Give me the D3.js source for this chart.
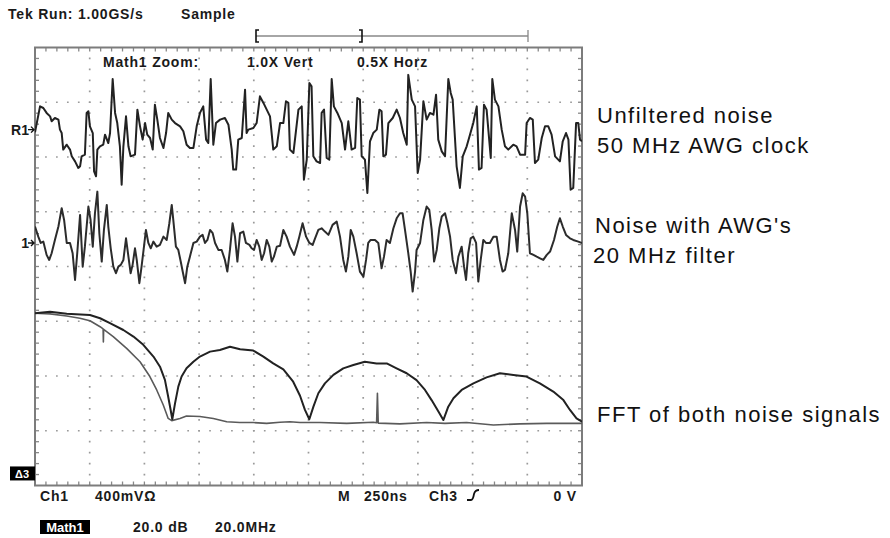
<!DOCTYPE html>
<html>
<head>
<meta charset="utf-8">
<script src="https://cdn.jsdelivr.net/npm/d3@7"></script>
<style>
  html, body { margin: 0; padding: 0; background: #fff; }
  svg { display: block; }
  .scope { font-family: "Liberation Sans", Arial, sans-serif; font-weight: bold; font-size: 14px; letter-spacing: 0.8px; fill: #1a1a1a; }
  .note { font-family: "Liberation Sans", Arial, sans-serif; font-size: 22px; letter-spacing: 1.5px; fill: #111; }
</style>
</head>
<body>
<svg id="scope" width="890" height="538"></svg>
<script>
// ---- Acquisition settings (as shown on the scope readout) ----
const nsPerDiv = 250;        // M 250ns
const mvPerDiv = 400;        // Ch1 400mV
const dbPerDiv = 20;         // Math1 20.0 dB
const mhzPerDiv = 20;        // Math1 20.0MHz
const hDivs = 10, vDivs = 8;

// Channel reference levels, in divisions from screen centre
const refLevelR1 = 2.5;
const refLevelCh1 = 0.43;
const refLevelMath = -3.78;

// ---- Unfiltered noise, 50 MHz AWG clock (R1): [time ns, mV] ----
const unfilteredNoise = [
  [0,-20],[23,170],[38,158],[53,122],[69,97],[76,61],[91,85],[107,73],[114,0],[122,-25],
  [129,-146],[145,-110],[160,-146],[168,-195],[183,-232],[198,-280],[206,-268],[213,-195],[228,-183],[236,122],
  [244,134],[251,24],[264,-25],[270,-305],[279,-341],[285,-146],[297,-122],[312,-110],[320,-37],[335,-98],
  [343,-25],[355,370],[366,122],[376,48],[388,-122],[396,-402],[404,-122],[416,97],[427,-122],[437,-195],
  [457,-183],[468,146],[480,24],[492,-73],[503,48],[513,-37],[526,-61],[538,-146],[548,182],[559,73],
  [571,-61],[587,-134],[599,-25],[609,122],[625,73],[640,48],[663,24],[678,-12],[693,-110],[708,-134],
  [724,-134],[739,24],[754,122],[769,170],[782,-73],[792,-98],[803,370],[815,-110],[827,48],[846,73],
  [868,85],[884,36],[899,-146],[906,-292],[919,-292],[929,-73],[945,-61],[960,292],[967,-25],[975,0],
  [998,12],[1013,48],[1028,243],[1044,195],[1059,146],[1074,97],[1089,-146],[1105,-122],[1120,48],[1135,48],
  [1147,207],[1158,195],[1165,-146],[1181,-171],[1204,146],[1219,170],[1229,-366],[1242,-219],[1254,340],[1264,316],
  [1272,-195],[1287,-232],[1303,-244],[1310,122],[1321,146],[1333,-207],[1345,-219],[1356,370],[1366,170],[1382,122],
  [1402,48],[1417,-146],[1432,61],[1447,-146],[1463,-134],[1473,231],[1485,219],[1493,-195],[1508,-219],[1519,-463],
  [1531,-85],[1546,-25],[1562,0],[1574,146],[1584,134],[1592,-195],[1604,-183],[1615,48],[1635,85],[1653,146],
  [1668,85],[1683,-25],[1699,-110],[1706,400],[1722,219],[1737,170],[1749,-317],[1760,-219],[1775,207],[1790,73],
  [1805,122],[1821,109],[1833,255],[1843,-73],[1859,-159],[1874,-195],[1889,370],[1900,268],[1909,219],[1927,-268],
  [1942,-426],[1955,-195],[1973,-122],[1988,-37],[2003,48],[2019,170],[2029,-292],[2041,-280],[2052,182],[2064,146],
  [2083,-207],[2090,370],[2102,219],[2118,170],[2133,0],[2148,-122],[2163,-146],[2186,-110],[2201,-122],[2217,-183],
  [2240,-183],[2247,48],[2262,85],[2275,73],[2285,-244],[2300,-219],[2316,-61],[2331,24],[2346,24],[2361,-37],
  [2377,-195],[2399,-232],[2412,-85],[2427,-25],[2438,-73],[2448,-439],[2460,-426],[2473,48],[2483,48],[2491,-73],
  [2500,-85]
];

// ---- Noise through the AWG's 20 MHz filter (Ch1): [time ns, mV] ----
const filteredNoise = [
  [0,120],[15,46],[26,0],[38,10],[53,-87],[65,-124],[76,-75],[91,22],[107,120],[122,254],
  [133,168],[145,0],[160,0],[172,-75],[183,-270],[193,-75],[206,205],[218,-173],[228,-27],[236,120],
  [244,266],[254,168],[264,-27],[274,217],[285,375],[294,71],[305,-136],[315,95],[328,278],[335,120],
  [346,-39],[358,-173],[370,-221],[381,-173],[392,-160],[404,-124],[416,34],[427,-100],[437,-221],[446,-160],
  [457,-39],[465,-124],[477,-294],[487,-173],[498,-27],[507,95],[518,0],[529,-39],[541,10],[556,-27],
  [571,-14],[587,46],[602,22],[614,144],[625,278],[632,168],[644,-27],[655,-51],[666,-136],[675,-209],
  [686,-294],[696,-173],[708,-100],[724,0],[739,10],[754,46],[766,59],[777,0],[788,22],[800,95],
  [812,71],[823,0],[838,-51],[853,-51],[868,-124],[879,-209],[891,-51],[903,144],[914,46],[925,-136],
  [937,71],[952,83],[964,0],[980,-14],[990,-39],[1001,-51],[1013,22],[1025,-27],[1036,-124],[1047,-75],
  [1059,22],[1071,-27],[1082,-136],[1092,-100],[1105,-27],[1120,-20],[1135,95],[1150,46],[1165,-27],[1184,-87],
  [1196,-27],[1208,46],[1223,144],[1239,46],[1254,0],[1269,-14],[1280,34],[1295,95],[1310,107],[1325,83],
  [1341,59],[1360,132],[1379,156],[1394,46],[1409,-124],[1421,-209],[1432,-100],[1443,95],[1455,46],[1470,-75],
  [1485,-209],[1501,-246],[1513,-124],[1523,0],[1534,22],[1554,22],[1569,0],[1584,-185],[1595,-100],[1607,22],
  [1622,0],[1638,107],[1653,180],[1668,217],[1680,217],[1691,95],[1706,-75],[1717,-209],[1726,-355],[1737,-209],
  [1744,-51],[1760,0],[1775,168],[1790,266],[1802,241],[1813,95],[1824,-136],[1836,-51],[1848,107],[1859,193],
  [1874,217],[1885,144],[1897,46],[1909,-124],[1924,-221],[1935,-100],[1950,-27],[1961,-173],[1970,-270],[1980,-75],
  [1991,34],[2003,46],[2016,0],[2026,-282],[2037,-124],[2049,22],[2061,0],[2079,0],[2095,46],[2110,46],
  [2125,-124],[2137,-209],[2148,-197],[2163,-75],[2179,217],[2194,95],[2204,-63],[2217,266],[2229,363],[2240,339],
  [2250,217],[2262,-75],[2278,-87],[2293,-100],[2308,-112],[2323,-124],[2339,-87],[2354,-63],[2372,22],[2387,120],
  [2399,180],[2412,120],[2427,59],[2445,34],[2460,22],[2483,10],[2500,0]
];

// ---- FFT magnitude of the unfiltered noise: [MHz, dB above Math1 reference] ----
const fftUnfiltered = [
  [0,58.5],[5.5,59.1],[11.6,58.3],[20.1,57.9],[23.8,56.7],[27.4,54.9],[32.3,52.4],[36.0,50.0],[39.6,47.0],[43.3,42.7],
  [45.7,39.0],[47.5,34.2],[48.7,28.0],[49.6,23.2],[50.2,19.8],[51.2,25.6],[52.4,31.7],[53.6,35.4],[55.4,38.4],[57.9,40.8],
  [60.3,42.7],[64.0,44.5],[67.6,45.1],[71.3,46.3],[75.0,45.4],[79.8,44.9],[83.5,42.7],[87.1,40.2],[90.8,38.0],[94.4,33.5],
  [96.9,28.4],[98.7,23.2],[100.3,19.8],[101.8,24.4],[103.6,29.3],[106.0,32.9],[109.1,36.0],[112.7,38.4],[116.4,39.6],[120.6,40.8],
  [124.9,40.2],[128.6,40.2],[132.2,38.4],[135.9,36.6],[139.5,34.1],[142.6,30.5],[145.0,26.8],[147.5,22.6],[149.3,19.5],[151.1,24.4],
  [153.0,27.5],[156.0,30.5],[160.3,32.9],[165.1,35.1],[170.0,36.6],[174.9,36.0],[179.7,35.4],[184.6,32.9],[189.5,29.9],[193.2,26.8],
  [195.6,23.2],[198.0,20.1],[200,18.9]
];

// ---- FFT magnitude of the 20 MHz filtered noise: [MHz, dB above Math1 reference] ----
const fftFiltered = [
  [0,58.5],[5.5,58.3],[11.6,57.5],[16.4,56.7],[20.1,55.8],[23.8,53.6],[24.9,52.8],[25.0,48.0],[25.1,52.6],[28.6,50.0],
  [33.5,45.7],[38.4,40.8],[42.0,35.4],[44.5,30.5],[46.9,25.0],[48.7,20.1],[50.0,19.3],[53.0,20.1],[55.4,21.0],[60.3,20.8],
  [65.2,20.1],[70.1,18.9],[74.9,18.6],[79.8,18.6],[84.7,18.3],[89.6,18.7],[93.2,18.9],[96.9,18.6],[104.2,18.6],[114.0,18.3],
  [123.7,18.7],[124.9,18.5],[125.2,29.3],[125.5,18.4],[133.4,18.1],[143.2,18.6],[149.9,18.3],[157.8,18.6],[167.6,17.7],[177.3,18.1],
  [187.1,18.3],[200,18.3]
];

// ---- Readout text ----
const headerRun = "Run: 1.00GS/s";
const headerMode = "Sample";
const zoomReadout = ["Math1 Zoom:", "1.0X Vert", "0.5X Horz"];
const ch1Readout = ["Ch1", "400mV\u03A9"];
const timebaseReadout = ["M", "250ns", "Ch3", "0 V"];
const mathReadout = ["Math1", "20.0 dB", "20.0MHz"];
const notes = [
  ["Unfiltered noise", "50 MHz AWG clock"],
  ["Noise with AWG's", "20 MHz filter"],
  ["FFT of both noise signals"]
];

// ---- Layout ----
const svg = d3.select("#scope");
const scrL = 35, scrR = 582, scrT = 47.5, scrB = 485.5;

const gx = d3.scaleLinear().domain([0, hDivs]).range([scrL, scrR]);
const gy = d3.scaleLinear().domain([vDivs / 2, -vDivs / 2]).range([scrT, scrB]);

const tScale = d3.scaleLinear().domain([0, hDivs * nsPerDiv]).range([scrL, scrR]);
const chanScale = ref => d3.scaleLinear().domain([0, mvPerDiv]).range([gy(ref), gy(ref + 1)]);
const yR1 = chanScale(refLevelR1);
const yCh1 = chanScale(refLevelCh1);
const fScale = d3.scaleLinear().domain([0, hDivs * mhzPerDiv]).range([scrL, scrR]);
const dbScale = d3.scaleLinear().domain([0, dbPerDiv]).range([gy(refLevelMath), gy(refLevelMath + 1)]);

// ---- Graticule ----
const minorX = (scrR - scrL) / (hDivs * 5);
const minorY = (scrB - scrT) / (vDivs * 5);
const grat = svg.append("g");

// dotted division lines
d3.range(1, hDivs).forEach(i => {
  grat.append("line")
    .attr("x1", gx(i)).attr("x2", gx(i)).attr("y1", scrT).attr("y2", scrB)
    .attr("stroke", "#9a9a9a").attr("stroke-width", 1.7)
    .attr("stroke-dasharray", `1.7 ${minorY - 1.7}`).attr("stroke-dashoffset", 0.85);
});
d3.range(-vDivs / 2 + 1, vDivs / 2).forEach(j => {
  grat.append("line")
    .attr("x1", scrL).attr("x2", scrR).attr("y1", gy(j)).attr("y2", gy(j))
    .attr("stroke", "#9a9a9a").attr("stroke-width", 1.7)
    .attr("stroke-dasharray", `1.7 ${minorX - 1.7}`).attr("stroke-dashoffset", 0.85);
});

// minor ticks along the frame
d3.range(1, hDivs * 5).forEach(k => {
  const x = scrL + k * minorX;
  grat.append("line").attr("x1", x).attr("x2", x).attr("y1", scrT).attr("y2", scrT + 4)
    .attr("stroke", "#888").attr("stroke-width", 1.3);
  grat.append("line").attr("x1", x).attr("x2", x).attr("y1", scrB).attr("y2", scrB - 4)
    .attr("stroke", "#888").attr("stroke-width", 1.3);
});
d3.range(1, vDivs * 5).forEach(k => {
  const y = scrT + k * minorY;
  grat.append("line").attr("x1", scrL).attr("x2", scrL + 4).attr("y1", y).attr("y2", y)
    .attr("stroke", "#888").attr("stroke-width", 1.3);
  grat.append("line").attr("x1", scrR).attr("x2", scrR - 4).attr("y1", y).attr("y2", y)
    .attr("stroke", "#888").attr("stroke-width", 1.3);
});

grat.append("rect")
  .attr("x", scrL).attr("y", scrT).attr("width", scrR - scrL).attr("height", scrB - scrT)
  .attr("fill", "none").attr("stroke", "#7c7c7c").attr("stroke-width", 2);

// ---- Waveforms ----
svg.append("clipPath").attr("id", "screen")
  .append("rect").attr("x", scrL).attr("y", scrT).attr("width", scrR - scrL).attr("height", scrB - scrT);
const traces = svg.append("g").attr("clip-path", "url(#screen)");

const timeLine = ys => d3.line().x(d => tScale(d[0])).y(d => ys(d[1]));
const fftLine = d3.line().x(d => fScale(d[0])).y(d => dbScale(d[1]));

traces.append("path").datum(fftFiltered).attr("d", fftLine)
  .attr("fill", "none").attr("stroke", "#5a5a5a").attr("stroke-width", 1.6).attr("stroke-linejoin", "round");
traces.append("path").datum(fftUnfiltered).attr("d", fftLine)
  .attr("fill", "none").attr("stroke", "#222").attr("stroke-width", 2).attr("stroke-linejoin", "round");

traces.append("path").datum(unfilteredNoise).attr("d", timeLine(yR1))
  .attr("fill", "none").attr("stroke", "#222").attr("stroke-width", 2).attr("stroke-linejoin", "round");
traces.append("path").datum(filteredNoise).attr("d", timeLine(yCh1))
  .attr("fill", "none").attr("stroke", "#2c2c2c").attr("stroke-width", 2).attr("stroke-linejoin", "round");

// ---- Reference markers at the left edge ----
function refMarker(label, y) {
  svg.append("text").attr("class", "scope").attr("x", scrL - 6).attr("y", y + 5)
    .attr("text-anchor", "end").style("letter-spacing", "0px").text(label);
  svg.append("path").attr("d", `M${scrL - 7},${y} H${scrL - 1} M${scrL - 4},${y - 3} L${scrL - 1},${y} L${scrL - 4},${y + 3}`)
    .attr("fill", "none").attr("stroke", "#111").attr("stroke-width", 1.4);
}
refMarker("R1", yR1(0));
refMarker("1", yCh1(0));

// Math1 ground marker
const mY = dbScale(0);
svg.append("rect").attr("x", 10).attr("y", mY - 7).attr("width", scrL - 10).attr("height", 14).attr("fill", "#000");
svg.append("text").attr("class", "scope").attr("x", 22).attr("y", mY + 4.5).attr("text-anchor", "middle")
  .style("fill", "#fff").style("font-size", "11px").style("letter-spacing", "0px").text("\u03943");

// ---- Header ----
const head = svg.append("text").attr("class", "scope").attr("x", 8).attr("y", 19);
head.append("tspan").style("font-weight", "900").text("Tek ");
head.append("tspan").text(headerRun);
svg.append("text").attr("class", "scope").attr("x", 181).attr("y", 19).text(headerMode);

// record-view bar
const barY = 36;
svg.append("line").attr("x1", 256).attr("x2", 528).attr("y1", barY).attr("y2", barY)
  .attr("stroke", "#888").attr("stroke-width", 1.3);
svg.append("path").attr("d", `M259,${barY - 6} H256 V${barY + 6} H259`).attr("fill", "none").attr("stroke", "#111").attr("stroke-width", 1.6);
svg.append("path").attr("d", `M359,${barY - 6} H362 V${barY + 6} H359`).attr("fill", "none").attr("stroke", "#111").attr("stroke-width", 1.6);
svg.append("line").attr("x1", 528).attr("x2", 528).attr("y1", barY - 6).attr("y2", barY + 6)
  .attr("stroke", "#888").attr("stroke-width", 1.3);

// zoom readout inside the screen
[[103, 0], [247, 1], [357, 2]].forEach(([x, i]) => {
  svg.append("text").attr("class", "scope").attr("x", x).attr("y", 67).text(zoomReadout[i]);
});

// ---- Bottom readouts ----
svg.append("text").attr("class", "scope").attr("x", 40).attr("y", 501).text(ch1Readout[0]);
svg.append("text").attr("class", "scope").attr("x", 95).attr("y", 501).text(ch1Readout[1]);
svg.append("text").attr("class", "scope").attr("x", 338).attr("y", 501).text(timebaseReadout[0]);
svg.append("text").attr("class", "scope").attr("x", 364).attr("y", 501).text(timebaseReadout[1]);
svg.append("text").attr("class", "scope").attr("x", 429).attr("y", 501).text(timebaseReadout[2]);
svg.append("path").attr("d", "M467,500 H471 Q473,500 474,494 Q475,490 479,490").attr("fill", "none").attr("stroke", "#111").attr("stroke-width", 1.8);
svg.append("text").attr("class", "scope").attr("x", 577).attr("y", 501).attr("text-anchor", "end").text(timebaseReadout[3]);

svg.append("rect").attr("x", 40).attr("y", 520).attr("width", 50).attr("height", 14).attr("fill", "#000");
svg.append("text").attr("class", "scope").attr("x", 65).attr("y", 532).attr("text-anchor", "middle")
  .style("fill", "#fff").style("letter-spacing", "0px").style("font-size", "13px").text(mathReadout[0]);
svg.append("text").attr("class", "scope").attr("x", 133).attr("y", 532).text(mathReadout[1]);
svg.append("text").attr("class", "scope").attr("x", 215).attr("y", 532).text(mathReadout[2]);

// ---- Annotations ----
const notePos = [[597, 123], [595, 233], [597, 422]];
notes.forEach((lines, i) => {
  const t = svg.append("text").attr("class", "note").attr("x", notePos[i][0]).attr("y", notePos[i][1]);
  lines.forEach((s, k) => {
    t.append("tspan").attr("x", notePos[i][0] - (i === 1 && k === 1 ? 2 : 0)).attr("dy", k === 0 ? 0 : 30).text(s);
  });
});
</script>
</body>
</html>
